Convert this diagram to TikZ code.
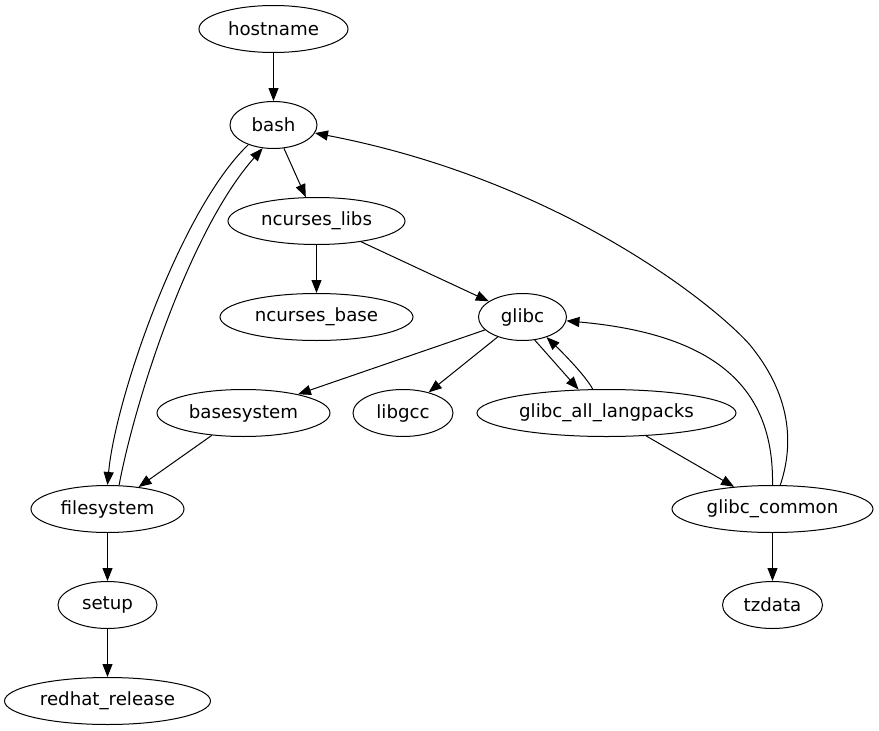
\documentclass[tikz,border=0pt]{standalone}
\usepackage{fontspec}
\setmainfont{DejaVu Sans}
\usetikzlibrary{arrows.meta,shapes.geometric}
\tikzset{
  pkg/.style={draw, ellipse, line width=1pt, inner sep=0pt, minimum height=47pt,
    font=\fontsize{18.2}{20}\selectfont},
  edge/.style={line width=1pt, -{Triangle[length=13pt,width=10pt]}},
}
\begin{document}
\begin{tikzpicture}[x=1pt,y=-1pt]
\useasboundingbox (0,0) rectangle (879,731);
\node[pkg, minimum width=149pt] (hostname) at (273.5,29) {hostname};
\node[pkg, minimum width=87pt] (bash) at (273.5,125) {bash};
\node[pkg, minimum width=177pt] (ncurseslibs) at (316.5,221) {ncurses\_libs};
\node[pkg, minimum width=193pt] (ncursesbase) at (316.5,317) {ncurses\_base};
\node[pkg, minimum width=88pt] (glibc) at (522.5,317) {glibc};
\node[pkg, minimum width=173pt] (basesystem) at (243.5,413) {basesystem};
\node[pkg, minimum width=100pt] (libgcc) at (403,413) {libgcc};
\node[pkg, minimum width=259pt] (gal) at (606.5,413) {glibc\_all\_langpacks};
\node[pkg, minimum width=153pt] (filesystem) at (107.5,509) {filesystem};
\node[pkg, minimum width=201pt] (gcommon) at (772.5,509) {glibc\_common};
\node[pkg, minimum width=99pt] (setup) at (107.5,605) {setup};
\node[pkg, minimum width=100pt] (tzdata) at (772.5,605) {tzdata};
\node[pkg, minimum width=206pt] (redhat) at (107.5,701) {redhat\_release};

\draw[edge] (hostname) -- (bash);
\draw[edge] (bash) -- (ncurseslibs);
\draw[edge] (bash.218) .. controls (180,210) and (115,400) .. (filesystem.north);
\draw[edge] (filesystem.64) .. controls (135,400) and (190,230) .. (bash.245);
\draw[edge] (ncurseslibs) -- (ncursesbase);
\draw[edge] (ncurseslibs) -- (glibc);
\draw[edge] (glibc) -- (basesystem);
\draw[edge] (glibc) -- (libgcc);
\draw[edge] (glibc.298) -- (gal.140);
\draw[edge] (gal.120) .. controls (585,375) and (562,352) .. (glibc.320);
\draw[edge] (gal) -- (gcommon);
\draw[edge] (gcommon.north) .. controls (774,395) and (725,335) .. (glibc.355);
\draw[edge] (gcommon.72) .. controls (792,450) and (795,400) .. (750,345)
  .. controls (715,305) and (560,180) .. (bash.349);
\draw[edge] (gcommon) -- (tzdata);
\draw[edge] (basesystem) -- (filesystem);
\draw[edge] (filesystem) -- (setup);
\draw[edge] (setup) -- (redhat);
\end{tikzpicture}
\end{document}
